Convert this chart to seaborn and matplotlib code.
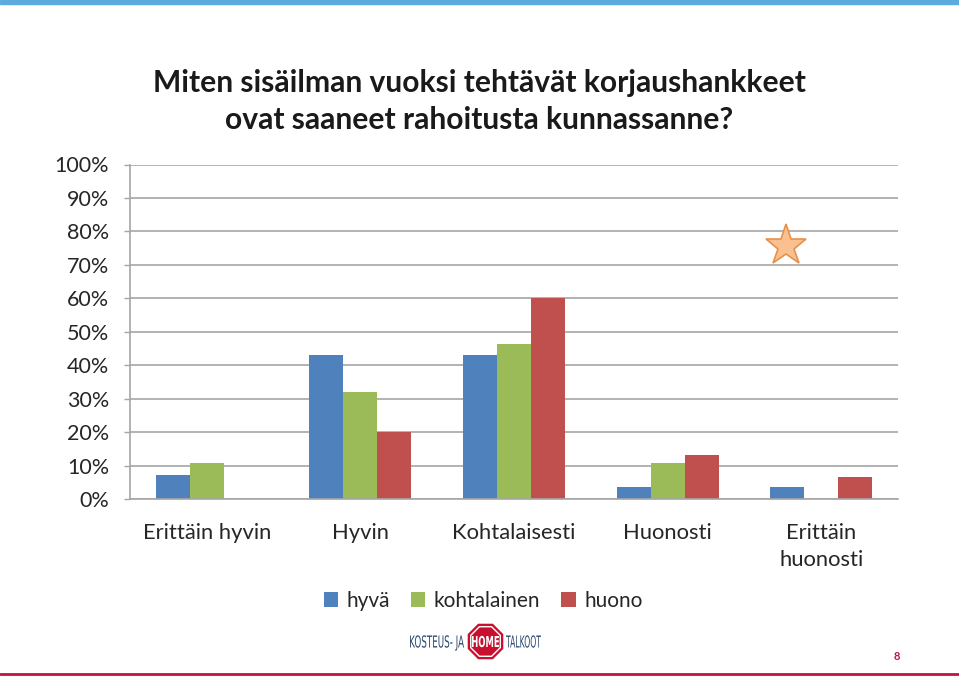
import matplotlib
matplotlib.use("Agg")
import matplotlib.pyplot as plt
from matplotlib.patches import RegularPolygon, Rectangle, PathPatch
from matplotlib.lines import Line2D
from matplotlib.textpath import TextPath
from matplotlib.font_manager import FontProperties
from matplotlib.transforms import Affine2D
import seaborn as sns
import pandas as pd

# ---- data ----
categories = ["Erittäin hyvin", "Hyvin", "Kohtalaisesti", "Huonosti", "Erittäin\nhuonosti"]
series_names = ["hyvä", "kohtalainen", "huono"]
hyva = [7.1, 42.9, 42.9, 3.6, 3.6]
kohtalainen = [10.7, 32.1, 46.4, 10.7, 0.0]
huono = [0.0, 20.0, 60.0, 13.3, 6.7]
yticks = list(range(0, 101, 10))
ytick_labels = [f"{v}%" for v in yticks]
title_text = "Miten sisäilman vuoksi tehtävät korjaushankkeet\novat saaneet rahoitusta kunnassanne?"
colors = ["#4F81BD", "#9BBB59", "#C0504D"]

rows = []
for name, vals in zip(series_names, [hyva, kohtalainen, huono]):
    for c, v in zip(categories, vals):
        rows.append({"cat": c, "series": name, "value": v})
df = pd.DataFrame(rows)

sns.set_style("white")
plt.rcParams["font.family"] = ["Lato", "DejaVu Sans"]

W, H = 959, 676
fig = plt.figure(figsize=(W / 100, H / 100), dpi=100)

def px(x0, y0, x1, y1):
    return [x0 / W, 1 - y1 / H, (x1 - x0) / W, (y1 - y0) / H]

ax = fig.add_axes(px(130, 164.5, 898, 499))
sns.barplot(data=df, x="cat", y="value", hue="series", order=categories,
            hue_order=series_names, palette=colors, width=0.664, saturation=1,
            ax=ax, linewidth=0, legend=True)

ax.set_ylim(0, 100)
ax.set_xlim(-0.5, len(categories) - 0.5)
ax.set_yticks(yticks)
ax.set_yticklabels(ytick_labels, fontsize=15.5, color="#262626")
ax.yaxis.grid(True, color="#A6A6A6", linewidth=1.2)
ax.set_axisbelow(True)
ax.set_xlabel("")
ax.set_ylabel("")
ax.tick_params(axis="y", length=4, width=1, color="#A6A6A6", pad=11, direction="out", left=True)
ax.tick_params(axis="x", length=0, pad=17, labelsize=15.8, labelcolor="#262626")
for lbl in ax.get_xticklabels():
    lbl.set_linespacing(1.45)
for s in ["top", "right"]:
    ax.spines[s].set_visible(False)
for s in ["left", "bottom"]:
    ax.spines[s].set_color("#A6A6A6")
    ax.spines[s].set_linewidth(1.2)

sns.move_legend(ax, "center", bbox_to_anchor=(483 / W, 1 - 601 / H),
                bbox_transform=fig.transFigure, ncol=3, frameon=False, title=None,
                fontsize=15, handlelength=0.7, handleheight=0.7,
                handletextpad=0.4, columnspacing=1.0)

# title
fig.text(479 / W, 1 - 101.5 / H, title_text, ha="center", va="center",
         fontsize=21.6, fontweight="bold", color="#1a1a1a", linespacing=1.42)

# top band
fig.patches.append(Rectangle((0, 1 - 4 / H), 1, 4 / H, transform=fig.transFigure,
                             color="#5BACDD", zorder=5))
# bottom red line
fig.lines.append(Line2D([0, 1], [1 - 673.5 / H] * 2, transform=fig.transFigure,
                        color="#C0143C", linewidth=2))

# overlay axes in pixel coordinates (y down)
ov = fig.add_axes([0, 0, 1, 1], facecolor="none")
ov.set_xlim(0, W)
ov.set_ylim(H, 0)
ov.axis("off")
ov.plot([786], [246], marker="*", markersize=31, markerfacecolor="#FBC08F",
        markeredgecolor="#E8904A", markeredgewidth=1.2)

# logo
ov.add_patch(RegularPolygon((485.5, 641.5), numVertices=8, radius=18.5,
                            orientation=0.3927, facecolor="#C8102E",
                            edgecolor="#C8102E"))
ov.add_patch(RegularPolygon((485.5, 641.5), numVertices=8, radius=16,
                            orientation=0.3927, facecolor="none",
                            edgecolor="white", linewidth=1))

def cond_text(s, x_left, x_right, y_base, cap_h, color, bold=False):
    fp = FontProperties(family="DejaVu Sans", weight="bold" if bold else "normal")
    tp = TextPath((0, 0), s, size=10, prop=fp)
    ext = tp.get_extents()
    sx = (x_right - x_left) / ext.width
    sy = cap_h / 7.29
    tr = Affine2D().translate(-ext.x0, 0).scale(sx, -sy).translate(x_left, y_base)
    ov.add_patch(PathPatch(tr.transform_path(tp), facecolor=color, edgecolor="none"))

cond_text("KOSTEUS- JA", 410, 464, 647.5, 12, "#2B4A72")
cond_text("TALKOOT", 506, 541, 647.5, 12, "#2B4A72")
cond_text("HOME", 472, 499, 647, 11, "white", bold=True)

# page number
ov.text(897, 657, "8", ha="center", va="center", color="#C0143C",
        fontsize=8, fontweight="bold")

fig.savefig("out.png", dpi=100)
